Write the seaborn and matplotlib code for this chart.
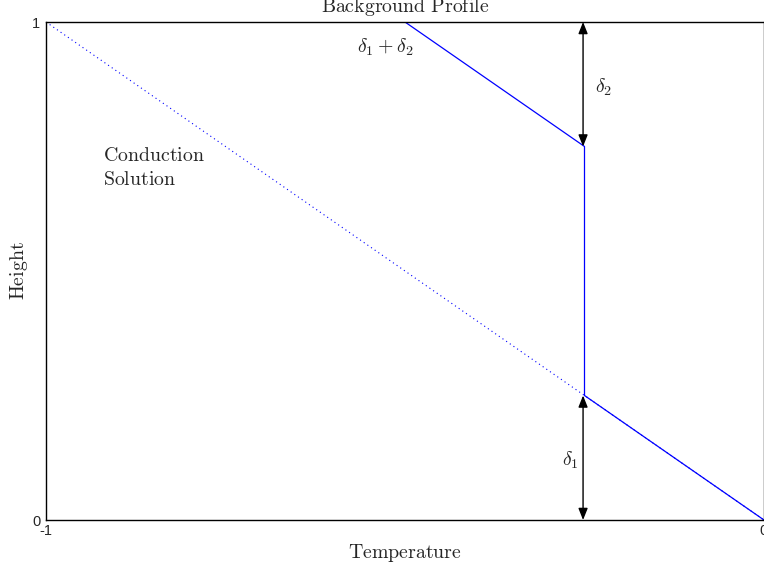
import matplotlib
matplotlib.use("Agg")
import matplotlib.pyplot as plt
import pandas as pd
import seaborn as sns

# conduction solution (dotted) and background profile (blue)
cond_temp = [-1.0, 0.0]
cond_height = [1.0, 0.0]
prof_temp = [-0.5, -0.25, -0.25, 0.0]
prof_height = [1.0, 0.75, 0.25, 0.0]
delta1 = 0.25
delta2 = 0.25
x_ticks = [-1, 0]
y_ticks = [0, 1]

sns.set_style("white")
plt.rcParams['mathtext.fontset'] = 'cm'
plt.rcParams['font.family'] = ['Liberation Sans', 'DejaVu Sans']

fig = plt.figure(figsize=(7.64, 5.67), dpi=100)
ax = fig.add_axes([46 / 764, 47 / 567, 718 / 764, 498 / 567])

cond = pd.DataFrame({'temp': cond_temp, 'height': cond_height})
prof = pd.DataFrame({'temp': prof_temp, 'height': prof_height})
sns.lineplot(data=cond, x='temp', y='height', sort=False, estimator=None,
             errorbar=None, ax=ax, color='blue', lw=0.8, linestyle=(0, (1, 3)))
sns.lineplot(data=prof, x='temp', y='height', sort=False, estimator=None,
             errorbar=None, ax=ax, color='blue', lw=0.9)

x_arrow = prof_temp[1] - 0.002
arrow = dict(arrowstyle='<|-|>,head_length=0.7,head_width=0.28', color='black',
             lw=1.0, shrinkA=0, shrinkB=0)
ax.annotate('', xy=(x_arrow, 0), xytext=(x_arrow, delta1), arrowprops=arrow)
ax.annotate('', xy=(x_arrow, 1), xytext=(x_arrow, 1 - delta2), arrowprops=arrow)

fs = 14.3
ax.text(-0.270, 0.12, r'$\delta_1$', fontsize=fs, ha='center', va='center')
ax.text(-0.224, 0.869, r'$\delta_2$', fontsize=fs, ha='center', va='center')
ax.text(-0.528, 0.95, r'$\delta_1+\delta_2$', fontsize=fs, ha='center', va='center')
ax.text(-0.921, 0.708, r'$\mathrm{Conduction}$' + '\n' + r'$\mathrm{Solution}$',
        fontsize=fs, ha='left', va='center', linespacing=1.35)

ax.set_xlim(-1, 0)
ax.set_ylim(0, 1)
ax.set_xticks(x_ticks)
ax.set_yticks(y_ticks)
ax.set_xticklabels([str(t) for t in x_ticks], fontsize=10.5)
ax.set_yticklabels([str(t) for t in y_ticks], fontsize=10.5)
ax.tick_params(direction='in', length=0)
ax.tick_params(axis='x', pad=3)
ax.tick_params(axis='y', pad=4)
ax.set_xlabel(r'$\mathrm{Temperature}$', fontsize=fs, labelpad=2.5)
ax.set_ylabel(r'$\mathrm{Height}$', fontsize=fs, labelpad=1.5)
ax.set_title(r'$\mathrm{Background\ Profile}$', fontsize=fs, pad=7)
for s in ax.spines.values():
    s.set_color('black')
    s.set_linewidth(1.0)

fig.savefig('out.png', dpi=100)
